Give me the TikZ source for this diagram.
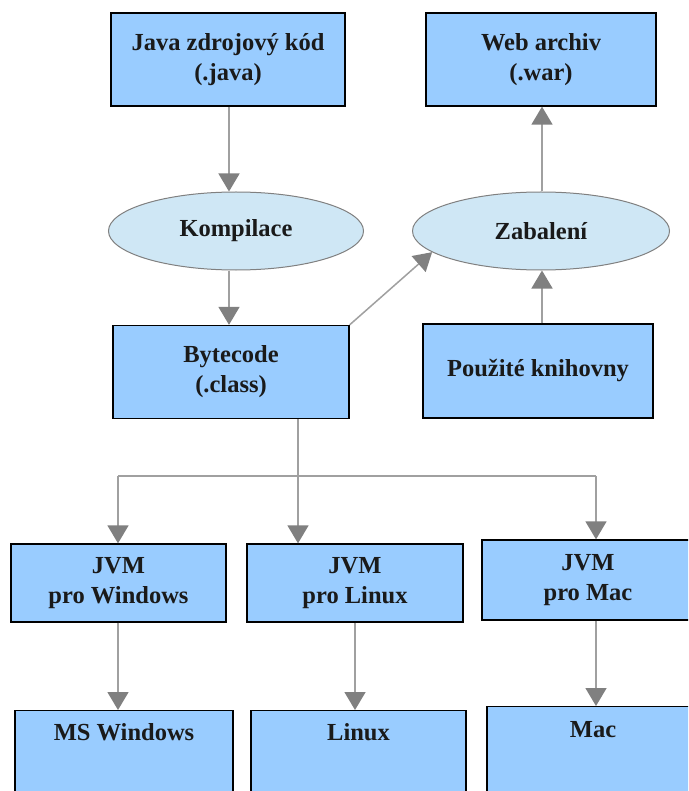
\documentclass[tikz,border=0pt]{standalone}
\usepackage{fontspec}
\setmainfont{Liberation Serif}
\usetikzlibrary{arrows.meta,shapes.geometric}
\definecolor{boxblue}{HTML}{99CCFF}
\definecolor{ellblue}{HTML}{CFE7F5}
\definecolor{linegray}{HTML}{A0A0A0}
\definecolor{tipgray}{HTML}{808080}
\definecolor{txt}{HTML}{1A1A1A}
\tikzset{
  box/.style={draw=black, line width=1.3pt, fill=boxblue, align=center, inner sep=0pt, text=txt},
  ell/.style={ellipse, draw=tipgray, line width=1pt, fill=ellblue, inner sep=0pt, text=txt},
  conn/.style={draw=linegray, line width=1.5pt},
  arr/.style={conn, -{Triangle[width=21pt,length=18pt,color=tipgray]}},
  lowbox/.style={box, anchor=north, inner ysep=0pt, text depth=70pt}
}
\begin{document}
\begin{tikzpicture}[x=1pt,y=-1pt, font=\fontsize{24.5}{30}\selectfont\bfseries]
\useasboundingbox (0,0) rectangle (688,791);
\clip (0,0) rectangle (688,791);
\fill[white] (0,0) rectangle (688,791);

\node[box, minimum width=234pt, minimum height=93pt] (java) at (228,59.5) {Java zdrojový kód\\(.java)};
\node[box, minimum width=230pt, minimum height=93pt] (web) at (541,59.5) {Web archiv\\(.war)};
\node[ell, minimum width=255pt, minimum height=78pt] (komp) at (236,231) {Kompilace};
\node[ell, minimum width=257pt, minimum height=78pt] (zab) at (541,231) {Zabalení};
\node[box, minimum width=236pt, minimum height=93pt] (byte) at (231,372) {Bytecode\\(.class)};
\node[box, minimum width=230pt, minimum height=94pt] (knih) at (538,371) {Použité knihovny};

\node[box, minimum width=215pt, minimum height=78pt] (jw) at (118.5,583) {JVM\\pro Windows};
\node[box, minimum width=216pt, minimum height=78pt] (jl) at (355,583) {JVM\\pro Linux};
\node[box, minimum width=212pt, minimum height=80pt] (jm) at (588,580) {JVM\\pro Mac};

\node[lowbox, minimum width=218pt, text height=30pt] (msw) at (124,710) {MS Windows};
\node[lowbox, minimum width=215pt, text height=30pt] (lin) at (358.5,710) {Linux};
\node[lowbox, minimum width=212pt, text height=31pt] (mac) at (593,706) {Mac};

\coordinate (jk) at (229,0);
\draw[arr] (java.south -| jk) -- (komp.north -| jk);
\draw[arr] (komp.south -| jk) -- (byte.north -| jk);
\draw[arr] (byte.north east) -- (zab.191);
\coordinate (zk) at (542,0);
\draw[arr] (zab.north -| zk) -- (web.south -| zk);
\draw[arr] (knih.north -| zk) -- (zab.south -| zk);

\coordinate (split) at (298,476);
\coordinate (hl) at (118,476);
\coordinate (hr) at (596,476);
\draw[conn] (byte.south -| split) -- (split);
\draw[conn] (hl) -- (hr);
\draw[arr] (hl) -- (jw.north -| hl);
\draw[arr] (split) -- (jl.north -| split);
\draw[arr] (hr) -- (jm.north -| hr);
\draw[arr] (jw.south -| hl) -- (msw.north -| hl);
\draw[arr] (jl.south) -- (jl.south |- lin.north);
\draw[arr] (jm.south -| hr) -- (mac.north -| hr);
\end{tikzpicture}
\end{document}
